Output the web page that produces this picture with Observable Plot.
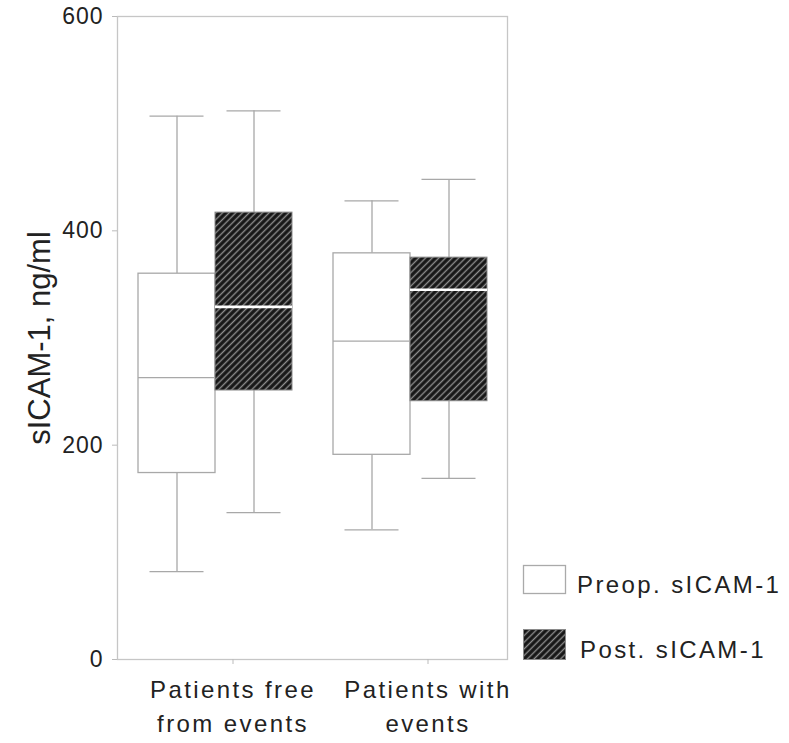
<!DOCTYPE html>
<html>
<head>
<meta charset="utf-8">
<script src="https://cdn.jsdelivr.net/npm/d3@7"></script>
<script src="https://cdn.jsdelivr.net/npm/@observablehq/plot@0.6"></script>
<style>
  body { margin: 0; background: #fff; font-family: "Liberation Sans", Arial, sans-serif; }
  #wrap { position: relative; width: 789px; height: 743px; }
  #legend { position: absolute; left: 515px; top: 555px; }
  #legend text { font-family: "Liberation Sans", Arial, sans-serif; font-size: 24px; letter-spacing: 2.4px; fill: #222; }
</style>
</head>
<body>
<div id="wrap"></div>
<script>
// ---- data ----
const groups = ["Patients free\nfrom events", "Patients with\nevents"];
const seriesKeys = ["Preop", "Post"];
const seriesLabels = ["Preop. sICAM-1", "Post. sICAM-1"];
const yTicks = [0, 200, 400, 600];
const yLabel = "sICAM-1, ng/ml";

const preopLow    = [82, 121];
const preopQ1     = [174, 191];
const preopMedian = [263, 297];
const preopQ3     = [360, 379];
const preopHigh   = [507, 428];

const postLow     = [137, 169];
const postQ1      = [251, 241];
const postMedian  = [329, 345];
const postQ3      = [417, 375];
const postHigh    = [512, 448];

// ---- build table ----
const rows = [];
groups.forEach((g, i) => {
  rows.push({group: g, series: "Preop", lo: preopLow[i], q1: preopQ1[i], med: preopMedian[i], q3: preopQ3[i], hi: preopHigh[i]});
  rows.push({group: g, series: "Post", lo: postLow[i], q1: postQ1[i], med: postMedian[i], q3: postQ3[i], hi: postHigh[i]});
});
const pre = rows.filter(d => d.series === "Preop");
const post = rows.filter(d => d.series === "Post");

const gray = "#a8a8a8";
const enc = {fx: "group", x: "series"};

const chart = Plot.plot({
  width: 789,
  height: 743,
  marginLeft: 117,
  marginRight: 282,
  marginTop: 16,
  marginBottom: 84,
  style: {fontFamily: '"Liberation Sans", Arial, sans-serif', color: "#222", background: "white"},
  fx: {domain: groups, padding: 0, label: null},
  x: {domain: seriesKeys, paddingInner: 0, paddingOuter: 0.255, axis: null},
  y: {domain: [0, 600]},
  marks: [
    Plot.frame({facet: "super", stroke: "#c6c6c6", strokeWidth: 1.3}),
    Plot.axisY({ticks: yTicks, tickSize: 5, tickPadding: 9, label: yLabel, labelAnchor: "center", labelArrow: "none", labelOffset: 90, stroke: "#bbb", fontSize: 23, fill: "#222"}),
    Plot.axisFx({anchor: "bottom", tickSize: 5, tickPadding: 10, label: null, fontSize: 24, lineHeight: 1.39, dx: 18, stroke: "#bbb", fill: "#222"}),
    // whiskers
    Plot.ruleX(rows, {...enc, y1: "lo", y2: "q1", stroke: gray, strokeWidth: 1.3}),
    Plot.ruleX(rows, {...enc, y1: "q3", y2: "hi", stroke: gray, strokeWidth: 1.3}),
    Plot.tickY(rows, {...enc, y: "hi", stroke: gray, strokeWidth: 1.3, insetLeft: 11.5, insetRight: 11.5}),
    Plot.tickY(rows, {...enc, y: "lo", stroke: gray, strokeWidth: 1.3, insetLeft: 11.5, insetRight: 11.5}),
    // boxes
    Plot.barY(pre, {...enc, y1: "q1", y2: "q3", fill: "white", stroke: gray, strokeWidth: 1.3}),
    Plot.barY(post, {...enc, y1: "q1", y2: "q3", fill: "url(#hatch)", stroke: "#8a8a8a", strokeWidth: 1}),
    // medians
    Plot.tickY(pre, {...enc, y: "med", stroke: gray, strokeWidth: 1.3}),
    Plot.tickY(post, {...enc, y: "med", stroke: "white", strokeWidth: 2.6})
  ]
});

// hatch pattern definition
const defs = d3.select(chart).insert("defs", ":first-child");
const pat = defs.append("pattern")
  .attr("id", "hatch")
  .attr("patternUnits", "userSpaceOnUse")
  .attr("width", 4.7).attr("height", 4.7)
  .attr("patternTransform", "rotate(45)");
pat.append("rect").attr("width", 4.7).attr("height", 4.7).attr("fill", "#161616");
pat.append("line").attr("x1", 2.35).attr("x2", 2.35).attr("y1", 0).attr("y2", 4.7)
  .attr("stroke", "#8e8e8e").attr("stroke-width", 1.4);

d3.select(chart).selectAll('g[aria-label="fx-axis tick label"] text').style("letter-spacing", "2.4px");
d3.select(chart).selectAll('g[aria-label="y-axis tick label"] text').style("letter-spacing", "1px");
d3.select(chart).selectAll('g[aria-label="y-axis label"] text').style("font-size", "31px");

document.getElementById("wrap").appendChild(chart);

// legend
const legend = d3.select("#wrap").append("svg").attr("id", "legend").attr("width", 274).attr("height", 188);
const lp = legend.append("defs").append("pattern")
  .attr("id", "hatchLegend")
  .attr("patternUnits", "userSpaceOnUse")
  .attr("width", 4.7).attr("height", 4.7)
  .attr("patternTransform", "rotate(45)");
lp.append("rect").attr("width", 4.7).attr("height", 4.7).attr("fill", "#161616");
lp.append("line").attr("x1", 2.35).attr("x2", 2.35).attr("y1", 0).attr("y2", 4.7)
  .attr("stroke", "#8e8e8e").attr("stroke-width", 1.4);

legend.append("rect").attr("x", 8.5).attr("y", 10.5).attr("width", 42).attr("height", 28)
  .attr("fill", "white").attr("stroke", "#aaa").attr("stroke-width", 1.3);
legend.append("text").attr("x", 62).attr("y", 38).text(seriesLabels[0]);
legend.append("rect").attr("x", 8.5).attr("y", 74.5).attr("width", 42).attr("height", 30)
  .attr("fill", "url(#hatchLegend)").attr("stroke", "#8a8a8a").attr("stroke-width", 1);
legend.append("text").attr("x", 65).attr("y", 103).text(seriesLabels[1]);
</script>
</body>
</html>
